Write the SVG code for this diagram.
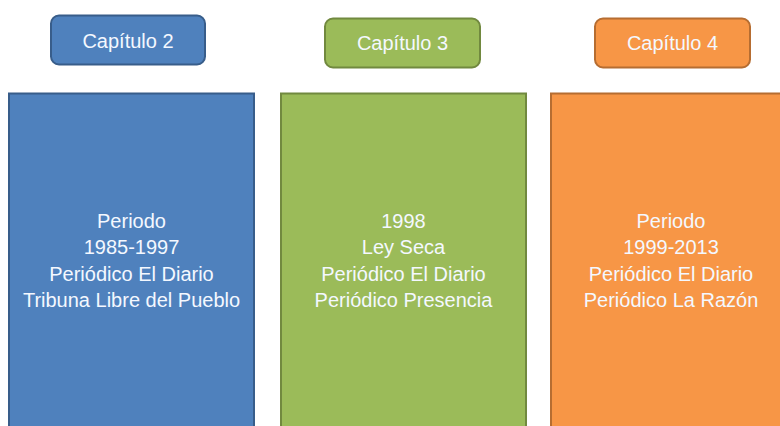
<svg xmlns="http://www.w3.org/2000/svg" width="780" height="426" viewBox="0 0 780 426">
<style>
text{font-family:"Liberation Sans",Arial,sans-serif;font-size:20px;fill:#f4f8ff;text-anchor:middle}
.b{fill:#4f81bd;stroke:#385d8a;stroke-width:2}
.g{fill:#9bbb59;stroke:#71893f;stroke-width:2}
.o{fill:#f79646;stroke:#b66d31;stroke-width:2}
</style>
<rect width="780" height="426" fill="#ffffff"/>
<g id="cap2"><rect class="b" x="51" y="15.5" width="154" height="49" rx="8"/><text x="128" y="47.5">Capítulo 2</text></g>
<g id="cap3"><rect class="g" x="325" y="18.5" width="155" height="49" rx="8"/><text x="402.5" y="49.5">Capítulo 3</text></g>
<g id="cap4"><rect class="o" x="595" y="18.5" width="155" height="49" rx="8"/><text x="672.5" y="49.5">Capítulo 4</text></g>
<g id="p1"><rect class="b" x="9" y="93.5" width="245" height="340"/>
<text x="131.5" y="227.5">Periodo</text><text x="131.5" y="254">1985-1997</text><text x="131.5" y="280.5">Periódico El Diario</text><text x="131.5" y="307">Tribuna Libre del Pueblo</text></g>
<g id="p2"><rect class="g" x="281" y="93.5" width="245" height="340"/>
<text x="403.5" y="227.5">1998</text><text x="403.5" y="254">Ley Seca</text><text x="403.5" y="280.5">Periódico El Diario</text><text x="403.5" y="307">Periódico Presencia</text></g>
<g id="p3"><rect class="o" x="551" y="93.5" width="245" height="340"/>
<text x="671" y="227.5">Periodo</text><text x="671" y="254">1999-2013</text><text x="671" y="280.5">Periódico El Diario</text><text x="671" y="307">Periódico La Razón</text></g>
<g id="connectors"/>
</svg>
